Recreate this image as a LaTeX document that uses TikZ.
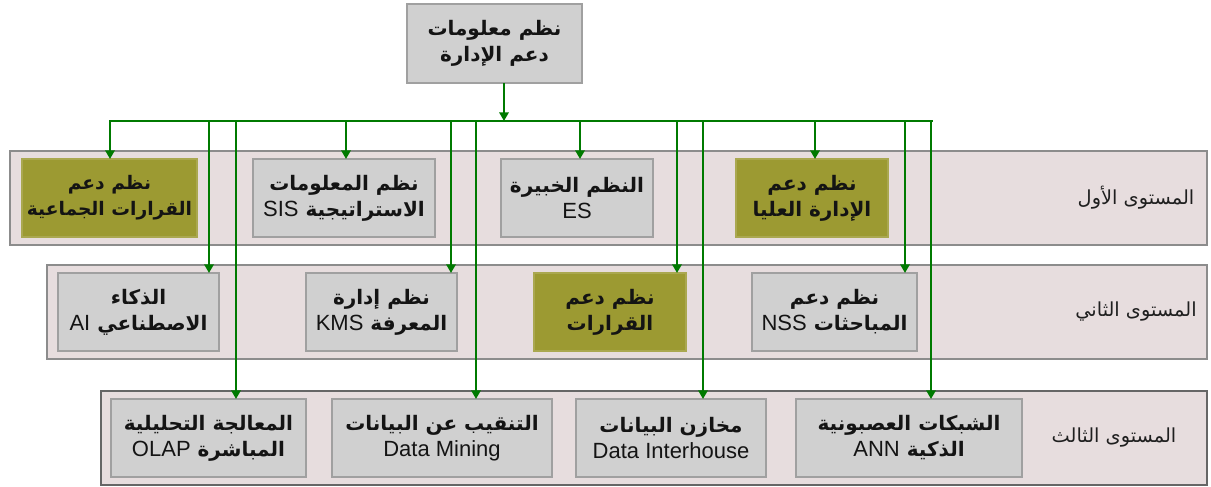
\documentclass[tikz,border=0pt]{standalone}
\usepackage{fontspec}
\usetikzlibrary{arrows.meta,calc}
\TeXXeTstate=1
\newfontfamily\arabicfont[Script=Arabic]{DejaVu Sans}
\newfontfamily\arabicbold[Script=Arabic]{DejaVu Sans Bold}
\newfontfamily\latinfont{Liberation Sans}
\newcommand\artxt[1]{\beginR #1\endR}
\newcommand\lttxt[1]{\beginL{\latinfont\fontsize{16.5}{19.5}\selectfont #1}\endL}
\definecolor{bandfill}{RGB}{231,221,222}
\definecolor{bandline}{RGB}{140,140,140}
\definecolor{boxgray}{RGB}{208,208,208}
\definecolor{boxline}{RGB}{160,160,160}
\definecolor{olivebox}{RGB}{156,154,50}
\definecolor{oliveline}{RGB}{170,168,80}
\definecolor{conngreen}{RGB}{0,122,0}
\begin{document}
\begin{tikzpicture}[x=0.75pt,y=-0.75pt,
  band/.style={draw=bandline,fill=bandfill,line width=1pt},
  sysbox/.style={draw=boxline,fill=boxgray,line width=0.8pt,inner sep=0pt,outer sep=0pt,
    align=center,minimum height=58.5pt,font=\arabicbold\fontsize{15}{19.5}\selectfont,text=black!92},
  olivesys/.style={sysbox,fill=olivebox,draw=oliveline},
  levellabel/.style={font=\arabicfont\fontsize{14.5}{17}\selectfont,text=black!88},
  conn/.style={draw=conngreen,line width=2.2pt},
  arr/.style={conn,-{Triangle[length=6.5pt,width=7pt]}}]
\useasboundingbox (0,0) rectangle (1211,486);
% level bands
\path[band] (10,151) rectangle (1207,245);
\path[band] (47,265) rectangle (1207,359);
\path[band,draw=black!60] (101,391) rectangle (1207,485);
% level labels
\node[levellabel] (l1) at (1136,198) {\artxt{المستوى الأول}};
\node[levellabel] (l2) at (1136,312) {\artxt{المستوى الثاني}};
\node[levellabel] (l3) at (1114,438) {\artxt{المستوى الثالث}};
% top box
\node[sysbox,minimum width=131.25pt,minimum height=59.25pt] (top) at (494.5,43.5)
  {\artxt{نظم معلومات}\\\artxt{دعم الإدارة}};
% level 1
\node[olivesys,minimum width=131.25pt,font=\arabicbold\fontsize{14}{19.5}\selectfont] (g1) at (109.5,198)
  {\artxt{نظم دعم}\\\artxt{القرارات الجماعية}};
\node[sysbox,minimum width=136.5pt] (sis) at (344,198)
  {\artxt{نظم المعلومات}\\\artxt{الاستراتيجية \lttxt{SIS}}};
\node[sysbox,minimum width=114pt] (es) at (577,198)
  {\artxt{النظم الخبيرة}\\\lttxt{ES}};
\node[olivesys,minimum width=114pt] (tm) at (812,198)
  {\artxt{نظم دعم}\\\artxt{الإدارة العليا}};
% level 2
\node[sysbox,minimum width=120.75pt] (ai) at (138.5,312)
  {\artxt{الذكاء}\\\artxt{الاصطناعي \lttxt{AI}}};
\node[sysbox,minimum width=113.25pt] (kms) at (381.5,312)
  {\artxt{نظم إدارة}\\\artxt{المعرفة \lttxt{KMS}}};
\node[olivesys,minimum width=114pt] (dss) at (610,312)
  {\artxt{نظم دعم}\\\artxt{القرارات}};
\node[sysbox,minimum width=123.75pt] (nss) at (834.5,312)
  {\artxt{نظم دعم}\\\artxt{المباحثات \lttxt{NSS}}};
% level 3
\node[sysbox,minimum width=146.25pt] (olap) at (208.5,438)
  {\artxt{المعالجة التحليلية}\\\artxt{المباشرة \lttxt{OLAP}}};
\node[sysbox,minimum width=165pt] (dm) at (442,438)
  {\artxt{التنقيب عن البيانات}\\\lttxt{Data Mining}};
\node[sysbox,minimum width=142.5pt] (dw) at (671,438)
  {\artxt{مخازن البيانات}\\\lttxt{Data Interhouse}};
\node[sysbox,minimum width=169.5pt] (ann) at (909,438)
  {\artxt{الشبكات العصبونية}\\\artxt{الذكية \lttxt{ANN}}};
% bus coordinates
\coordinate (hub) at (504,121);
\coordinate (busL) at (110,121);
\coordinate (busR) at (932,121);
\coordinate (x1) at (110,121);
\coordinate (x2) at (209,121);
\coordinate (x3) at (236,121);
\coordinate (x4) at (346,121);
\coordinate (x5) at (451,121);
\coordinate (x6) at (476,121);
\coordinate (x7) at (580,121);
\coordinate (x8) at (677,121);
\coordinate (x9) at (703,121);
\coordinate (x10) at (815,121);
\coordinate (x11) at (905,121);
\coordinate (x12) at (931,121);
% connectors
\draw[arr] (top.south -| hub) -- (hub);
\draw[conn,line cap=rect] (busL) -- (busR);
\draw[arr] (x1) -- (x1 |- g1.north);
\draw[arr] (x4) -- (x4 |- sis.north);
\draw[arr] (x7) -- (x7 |- es.north);
\draw[arr] (x10) -- (x10 |- tm.north);
\draw[arr] (x2) -- (x2 |- ai.north);
\draw[arr] (x5) -- (x5 |- kms.north);
\draw[arr] (x8) -- (x8 |- dss.north);
\draw[arr] (x11) -- (x11 |- nss.north);
\draw[arr] (x3) -- (x3 |- olap.north);
\draw[arr] (x6) -- (x6 |- dm.north);
\draw[arr] (x9) -- (x9 |- dw.north);
\draw[arr] (x12) -- (x12 |- ann.north);
\end{tikzpicture}
\end{document}
